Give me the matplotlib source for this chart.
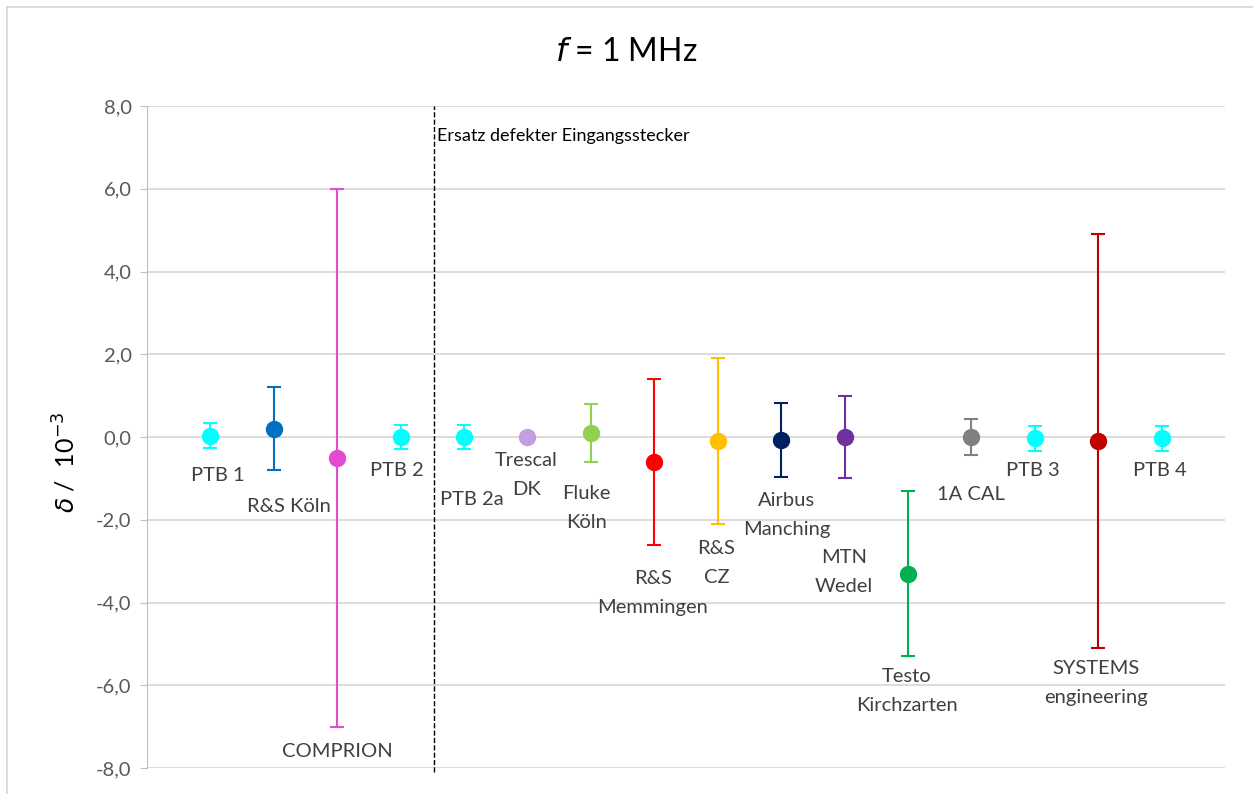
import numpy as np
import matplotlib.pyplot as plt
from matplotlib.lines import Line2D

plt.rcParams['font.family'] = ['Lato', 'DejaVu Sans']

# Teilnehmer (Reihenfolge der Messungen)
namen = ['PTB 1', 'R&S Köln', 'COMPRION', 'PTB 2', 'PTB 2a', 'Trescal\nDK',
         'Fluke\nKöln', 'R&S\nMemmingen', 'R&S\nCZ', 'Airbus\nManching',
         'MTN\nWedel', 'Testo\nKirchzarten', '1A CAL', 'PTB 3',
         'SYSTEMS\nengineering', 'PTB 4']
delta = [0.03, 0.2, -0.5, 0.0, 0.0, 0.0, 0.1, -0.6, -0.1, -0.07,
         0.0, -3.3, 0.0, -0.03, -0.1, -0.03]
unsicherheit = [0.3, 1.0, 6.5, 0.3, 0.3, 0.0, 0.7, 2.0, 2.0, 0.9,
                1.0, 2.0, 0.43, 0.3, 5.0, 0.3]
farben = ['#00FFFF', '#0070C0', '#E24BD0', '#00FFFF', '#00FFFF', '#C49EE0',
          '#92D050', '#FF0000', '#FFC000', '#002060', '#7030A0', '#00B050',
          '#808080', '#00FFFF', '#C00000', '#00FFFF']
# Lage der Beschriftungen (x, y in Datenkoordinaten)
label_x = [1.12, 2.24, 3.0, 3.94, 5.12, 5.98, 6.93, 7.98, 8.98, 10.09,
           10.99, 11.98, 12.99, 13.97, 14.96, 15.97]
label_y = [-0.94, -1.69, -7.6, -0.82, -1.52, -0.92, -1.71, -3.77, -3.04, -1.88,
           -3.26, -6.14, -1.38, -0.82, -5.94, -0.82]

fig = plt.figure(figsize=(12.53, 7.94), dpi=100)
ax = fig.add_axes([147/1253, 1-768/794, (1225-147)/1253, (768-106)/794])

x = np.arange(1, len(namen)+1)
for i in range(len(namen)):
    if unsicherheit[i] > 0:
        ax.errorbar(x[i], delta[i], yerr=unsicherheit[i], fmt='o', color=farben[i],
                    ms=11.5, capsize=5, elinewidth=1.5, capthick=1.5, zorder=3)
    else:
        ax.plot(x[i], delta[i], 'o', color=farben[i], ms=11.5, zorder=3)
    ax.text(label_x[i], label_y[i], namen[i], ha='center', va='center',
            fontsize=14.5, color='#404040', linespacing=1.85)

ax.axvline(4.52, ymin=-0.006, ymax=1, color='black', ls='--', lw=1, clip_on=False)
ax.text(4.58, 7.28, 'Ersatz defekter Eingangsstecker', fontsize=13, va='center')

ax.set_xlim(0, 17)
ax.set_ylim(-8, 8)
ax.set_yticks(np.arange(-8, 8.1, 2))
ax.set_yticklabels([('%.1f' % v).replace('.', ',') for v in np.arange(-8, 8.1, 2)],
                   fontsize=14.5, color='#595959')
ax.set_xticks([])
ax.grid(axis='y', color='#D9D9D9', lw=1.3)
ax.set_axisbelow(True)
for s in ['top', 'right', 'bottom']:
    ax.spines[s].set_visible(False)
ax.spines['left'].set_color('#BFBFBF')
ax.tick_params(axis='y', direction='out', length=5, color='#BFBFBF', pad=6)

fig.text(0.5, 1-52/794, r'$f$ = 1 MHz', ha='center', va='center', fontsize=23)
fig.text(65/1253, 1-462/794, r'$\delta$ /  10$^{-3}$', rotation=90, ha='center',
         va='center', fontsize=18)

# Rahmen des Diagrammbereichs
fig.add_artist(Line2D([7/1253, 7/1253], [0, 1-7/794], color='#D9D9D9', lw=1.3))
fig.add_artist(Line2D([7/1253, 1], [1-7/794, 1-7/794], color='#D9D9D9', lw=1.3))

fig.savefig('out.png', dpi=100)
